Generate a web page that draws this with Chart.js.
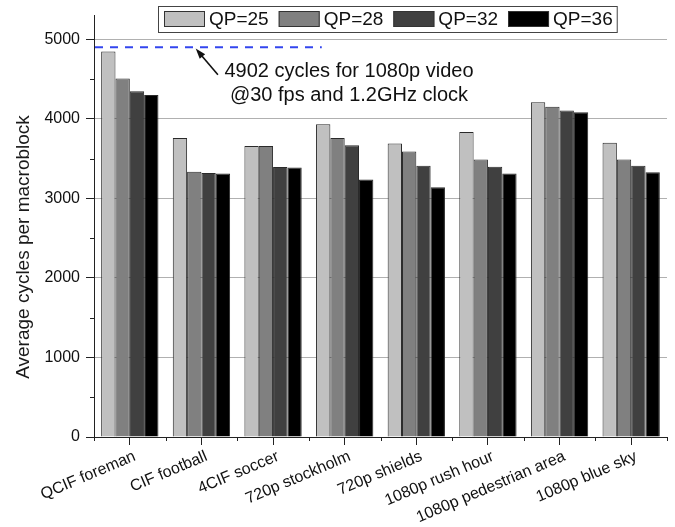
<!DOCTYPE html>
<html>
<head>
<meta charset="utf-8">
<script src="https://cdn.jsdelivr.net/npm/chart.js@4.4.1/dist/chart.umd.min.js"></script>
<style>
  html, body { margin: 0; padding: 0; background: #fff; }
  #wrap { width: 675px; height: 527px; }
</style>
</head>
<body>
<div id="wrap"><canvas id="cyclesChart"></canvas></div>
<script>
const sequences = ['QCIF foreman', 'CIF football', '4CIF soccer', '720p stockholm',
                   '720p shields', '1080p rush hour', '1080p pedestrian area', '1080p blue sky'];
const qpLabels = ['QP=25', 'QP=28', 'QP=32', 'QP=36'];
const qp25 = [4850, 3760, 3660, 3935, 3690, 3835, 4210, 3700];
const qp28 = [4510, 3335, 3660, 3760, 3590, 3490, 4155, 3490];
const qp32 = [4350, 3320, 3395, 3670, 3410, 3400, 4105, 3410];
const qp36 = [4300, 3315, 3390, 3240, 3140, 3315, 4085, 3330];
const yTicks = [0, 1000, 2000, 3000, 4000, 5000];
const cycleBudget = 4902;
const budgetNote = ['4902 cycles for 1080p video', '@30 fps and 1.2GHz clock'];

const FONT = 'Liberation Sans, Arial, sans-serif';
const fills = ['#c0c0c0', '#808080', '#404040', '#000000'];

function barSet(label, data, color) {
  return {
    label, data,
    backgroundColor: color,
    borderColor: '#2a2a2a',
    borderWidth: 1,
    categoryPercentage: 0.8,
    barPercentage: 1.0
  };
}

// legend box, y title, minor ticks and the budget line/arrow/note
const extras = {
  id: 'extras',
  afterDatasetsDraw(chart) {
    const { ctx, chartArea, scales } = chart;
    const xs = scales.x, ys = scales.y;
    // fractional category position -> pixel
    const cat = i => xs.getPixelForDecimal((i + 0.5) / sequences.length);
    ctx.save();

    // minor ticks
    ctx.strokeStyle = '#222';
    ctx.lineWidth = 1;
    ctx.beginPath();
    for (let i = 0; i < yTicks.length; i++) {
      const v = yTicks[i] + 500;
      if (v > ys.max) break;
      const py = Math.round(ys.getPixelForValue(v)) + 0.5;
      ctx.moveTo(chartArea.left - 4, py);
      ctx.lineTo(chartArea.left, py);
    }
    for (let i = 0; i <= sequences.length; i++) {
      const px = Math.round(cat(i - 0.5)) + 0.5;
      ctx.moveTo(px, chartArea.bottom);
      ctx.lineTo(px, chartArea.bottom + 4);
    }
    ctx.stroke();

    // budget line
    const by = ys.getPixelForValue(cycleBudget);
    ctx.strokeStyle = '#3346ee';
    ctx.lineWidth = 2;
    ctx.setLineDash([8, 7]);
    ctx.beginPath();
    ctx.moveTo(chartArea.left + 1, by);
    ctx.lineTo(cat(2.68), by);
    ctx.stroke();
    ctx.setLineDash([]);

    // arrow to the budget line
    const tx = cat(0.92), ty = ys.getPixelForValue(4885);
    const sx = cat(1.23), sy = ys.getPixelForValue(4555);
    const ang = Math.atan2(ty - sy, tx - sx);
    ctx.strokeStyle = '#111';
    ctx.lineWidth = 1.6;
    ctx.beginPath();
    ctx.moveTo(sx, sy);
    ctx.lineTo(tx - 6 * Math.cos(ang), ty - 6 * Math.sin(ang));
    ctx.stroke();
    ctx.fillStyle = '#111';
    ctx.beginPath();
    ctx.moveTo(tx, ty);
    ctx.lineTo(tx - 11 * Math.cos(ang - 0.33), ty - 11 * Math.sin(ang - 0.33));
    ctx.lineTo(tx - 11 * Math.cos(ang + 0.33), ty - 11 * Math.sin(ang + 0.33));
    ctx.closePath();
    ctx.fill();

    // note text
    ctx.font = '20px ' + FONT;
    ctx.textAlign = 'center';
    ctx.textBaseline = 'middle';
    const nx = cat(3.06);
    ctx.fillText(budgetNote[0], nx, ys.getPixelForValue(4600));
    ctx.fillText(budgetNote[1], nx, ys.getPixelForValue(4290));

    // y axis title
    ctx.save();
    ctx.translate(24, 247);
    ctx.rotate(-Math.PI / 2);
    ctx.font = '19px ' + FONT;
    ctx.fillStyle = '#1a1a1a';
    ctx.fillText('Average cycles per macroblock', 0, 0);
    ctx.restore();

    // legend
    ctx.font = '19px ' + FONT;
    ctx.textAlign = 'left';
    const sw = 41, sh = 16, gap = 4, step = 10;
    const top = 6, h = 26;
    const boxLeft = chartArea.left + 64;
    let x = boxLeft + 6;
    chart.data.datasets.forEach(d => {
      ctx.fillStyle = d.backgroundColor;
      ctx.fillRect(x, top + 5, sw, sh);
      ctx.strokeStyle = '#333';
      ctx.lineWidth = 1;
      ctx.strokeRect(x + 0.5, top + 5.5, sw - 1, sh - 1);
      ctx.fillStyle = '#111';
      ctx.fillText(d.label, x + sw + gap, top + h / 2 + 1);
      x += sw + gap + ctx.measureText(d.label).width + step;
    });
    ctx.strokeStyle = '#444';
    ctx.strokeRect(boxLeft + 0.5, top + 0.5, x - step + 4 - boxLeft, h);
    ctx.restore();
  }
};

new Chart(document.getElementById('cyclesChart'), {
  type: 'bar',
  data: {
    labels: sequences,
    datasets: [
      barSet(qpLabels[0], qp25, fills[0]),
      barSet(qpLabels[1], qp28, fills[1]),
      barSet(qpLabels[2], qp32, fills[2]),
      barSet(qpLabels[3], qp36, fills[3])
    ]
  },
  options: {
    responsive: true,
    maintainAspectRatio: false,
    animation: false,
    layout: { padding: { top: 12, right: 8, left: 0, bottom: 0 } },
    plugins: { legend: { display: false }, tooltip: { enabled: false } },
    scales: {
      x: {
        type: 'category',
        offset: true,
        grid: { offset: false, drawOnChartArea: false, tickLength: 8, color: '#222' },
        border: { color: '#222', width: 1 },
        ticks: {
          autoSkip: false, minRotation: 23, maxRotation: 23, padding: 2, labelOffset: 5,
          color: '#111', font: { family: FONT, size: 16 }
        },
        afterFit: s => { s.height = 90; }
      },
      y: {
        min: 0, max: 5300,
        afterBuildTicks: s => { s.ticks = yTicks.map(v => ({ value: v })); },
        ticks: {
          color: '#111', font: { family: FONT, size: 16 }, padding: 6,
          callback: v => String(v)
        },
        grid: {
          color: c => (c.tick && c.tick.value > 0 ? '#b0b0b0' : 'rgba(0,0,0,0)'),
          tickColor: '#222', tickLength: 8
        },
        border: { color: '#222', width: 1 },
        afterFit: s => { s.width = 94; }
      }
    }
  },
  plugins: [extras]
});
</script>
</body>
</html>
